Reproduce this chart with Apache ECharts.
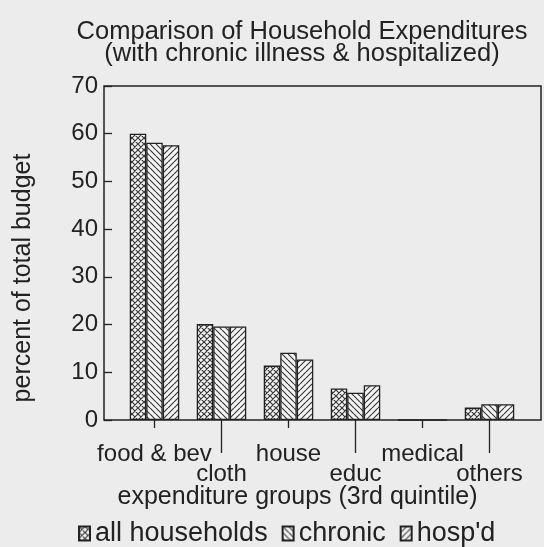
<!DOCTYPE html>
<html>
<head>
<meta charset="utf-8">
<script src="https://cdn.jsdelivr.net/npm/echarts@6/dist/echarts.min.js"></script>
<style>
html,body{margin:0;padding:0;background:#ececec;}
#c{width:544px;height:547px;}
</style>
</head>
<body>
<div id="c"></div>
<script>
var categories = ['food & bev', 'cloth', 'house', 'educ', 'medical', 'others'];
var allHouseholds = [60, 20.1, 11.4, 6.6, 0, 2.6];
var chronic = [58.1, 19.6, 14.1, 5.7, 0, 3.3];
var hospd = [57.6, 19.6, 12.7, 7.3, 0, 3.3];
var yTicks = [0, 10, 20, 30, 40, 50, 60, 70];
var seriesNames = ['all households', 'chronic', "hosp'd"];

function makePattern(kind) {
  var s = 6;
  var c = document.createElement('canvas');
  c.width = s; c.height = s;
  var g = c.getContext('2d');
  g.fillStyle = '#f4f4f4';
  g.fillRect(0, 0, s, s);
  g.strokeStyle = '#3a3a3a';
  g.lineWidth = 1.2;
  g.beginPath();
  for (var k = -1; k <= 1; k++) {
    if (kind === 'back' || kind === 'cross') {
      g.moveTo(k * s, 0); g.lineTo(k * s + s, s);
    }
    if (kind === 'fwd' || kind === 'cross') {
      g.moveTo(k * s, s); g.lineTo(k * s + s, 0);
    }
  }
  g.stroke();
  return { image: c, repeat: 'repeat' };
}

function pairs(arr) { return arr.map(function (v, i) { return [i + 1, v]; }); }

var chart = echarts.init(document.getElementById('c'));
var txt = '#222';
var font = 'Liberation Sans';
var axisMin = 0.2463, axisMax = 6.7687;
var labelPos = categories.map(function (c, i) { return i + 1; });
var oddPos = labelPos.filter(function (v) { return v % 2 === 1; });
var evenPos = labelPos.filter(function (v) { return v % 2 === 0; });

var barStyle = function (kind) {
  return { color: makePattern(kind), borderColor: '#222', borderWidth: 1.3 };
};

function labelAxis(values, tickLen, labelMargin, extra) {
  var ax = {
    type: 'value', min: axisMin, max: axisMax, position: 'bottom', z: 5,
    axisLine: { show: false }, splitLine: { show: false },
    axisTick: { show: true, interval: 0, customValues: values, length: tickLen, lineStyle: { color: '#222', width: 1.3 } },
    axisLabel: {
      customValues: values, interval: 0, margin: labelMargin, fontSize: 24, color: txt,
      hideOverlap: false, showMinLabel: true, showMaxLabel: true,
      formatter: function (v) { return categories[Math.round(v) - 1]; }
    }
  };
  for (var k in extra) ax[k] = extra[k];
  return ax;
}

chart.setOption({
  backgroundColor: '#ececec',
  animation: false,
  textStyle: { fontFamily: font, color: txt },
  title: {
    text: 'Comparison of Household Expenditures\n(with chronic illness & hospitalized)',
    left: 297, top: 16, textAlign: 'center',
    textStyle: { fontSize: 25.5, fontWeight: 'normal', color: txt, lineHeight: 22, fontFamily: font }
  },
  grid: {
    left: 104, right: 3, top: 86, bottom: 127,
    show: true, borderColor: '#222', borderWidth: 1.5, backgroundColor: 'transparent'
  },
  legend: {
    data: seriesNames, left: 78, top: 520, icon: 'rect',
    itemWidth: 11, itemHeight: 14, itemGap: 14, padding: 0,
    textStyle: { fontSize: 27, color: txt, fontFamily: font }
  },
  xAxis: [
    labelAxis(oddPos, 8, 22, {
      name: 'expenditure groups (3rd quintile)', nameLocation: 'middle', nameGap: 65,
      nameMoveOverlap: false,
      nameTextStyle: { fontSize: 25, color: txt, padding: [0, 50, 0, 0], fontFamily: font }
    }),
    labelAxis(evenPos, 33, 42, {})
  ],
  yAxis: {
    type: 'value', min: 0, max: 70, interval: 10,
    name: 'percent of total budget', nameLocation: 'middle', nameGap: 68,
    nameMoveOverlap: false,
    nameTextStyle: { fontSize: 25, color: txt, fontFamily: font, padding: [0, 50, 0, 0] },
    axisLine: { show: false }, splitLine: { show: false },
    axisTick: { show: true, inside: true, length: 8, lineStyle: { color: '#222', width: 1.3 } },
    axisLabel: {
      fontSize: 24, color: txt, margin: 6,
      formatter: function (v) { return yTicks.indexOf(v) >= 0 ? String(v) : ''; }
    }
  },
  series: [
    { name: seriesNames[0], type: 'bar', data: pairs(allHouseholds), barWidth: 16.5, barGap: '0%', itemStyle: barStyle('cross') },
    { name: seriesNames[1], type: 'bar', data: pairs(chronic), barWidth: 16.5, barGap: '0%', itemStyle: barStyle('back') },
    { name: seriesNames[2], type: 'bar', data: pairs(hospd), barWidth: 16.5, barGap: '0%', itemStyle: barStyle('fwd') }
  ]
});
</script>
</body>
</html>
